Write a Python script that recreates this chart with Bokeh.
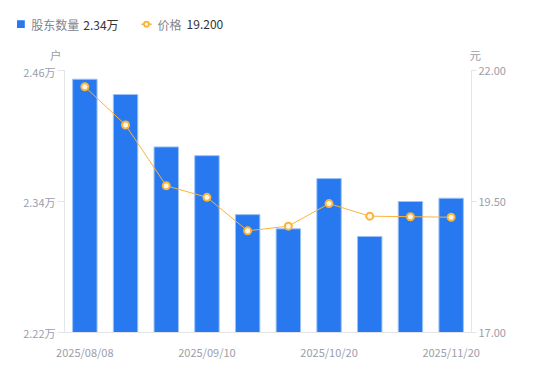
from bokeh.plotting import figure
from bokeh.layouts import column
from bokeh.models import (Range1d, LinearAxis, FixedTicker, PrintfTickFormatter,
                          ColumnDataSource)
from bokeh.core.properties import value
from bokeh.embed import file_html
from bokeh.resources import INLINE

dates = ["2025/08/08", "2025/08/20", "2025/08/31", "2025/09/10", "2025/09/19",
         "2025/09/30", "2025/10/20", "2025/10/31", "2025/11/10", "2025/11/20"]
holders = [2.452, 2.438, 2.390, 2.382, 2.328, 2.315, 2.361, 2.308, 2.340, 2.343]  # 万户
price = [21.69, 20.96, 19.80, 19.58, 18.94, 19.03, 19.46, 19.22, 19.21, 19.20]
left_ticks = [2.22, 2.34, 2.46]
right_ticks = [17.0, 19.5, 22.0]
shown_idx = [0, 3, 6, 9]
series_names = ["股东数量", "价格"]
units = ["户", "元"]

FONT = "Noto Sans CJK SC"
GRAY = "#9a9ea8"
LEGEND_GRAY = "#80858f"
AX = "#e3e5e8"
BLUE = "#2878f0"
ORANGE = "#f8b43c"

W = 534
TOP_H = 63
MAIN_H = 302

# ---------- top strip: legend + unit labels ----------
top = figure(width=W, height=TOP_H, output_backend="svg", toolbar_location=None,
             x_range=Range1d(0, W), y_range=Range1d(TOP_H, 0),
             x_axis_type=None, y_axis_type=None, title=None,
             min_border=0, min_border_left=0, min_border_right=0,
             min_border_top=0, min_border_bottom=0)
top.frame_align = False
top.outline_line_color = None
top.background_fill_color = "white"
top.border_fill_color = "white"

ly = 23.7
top.rect(x=[20.4], y=[ly], width=7.8, height=7.8, fill_color=BLUE, line_color=None)
top.line(x=[140.8, 151.2], y=[ly, ly], line_color=ORANGE, line_width=1.5)
top.scatter(x=[146.0], y=[ly], size=5, line_color=ORANGE, line_width=1.8, fill_color="#fff7e6")
top.text(x=[30.8, 157.0], y=[ly, ly], text=series_names,
         text_font=value(FONT), text_font_size="12px", text_color=LEGEND_GRAY,
         text_baseline="middle", text_align="left")
top.text(x=[82.8, 186.1], y=[ly, ly],
         text=["%.2f万" % holders[-1], "%.3f" % price[-1]],
         text_font=value(FONT), text_font_size="12px", text_color="#333333",
         text_baseline="middle", text_align="left")
top.text(x=[55.3, 474.8], y=[54.5, 54.5], text=units,
         text_font=value(FONT), text_font_size="11.5px", text_color=GRAY,
         text_baseline="middle", text_align="center")

# ---------- main chart ----------
src = ColumnDataSource(dict(x=list(range(len(dates))), h=holders, p=price))

p = figure(width=W, height=MAIN_H, output_backend="svg", toolbar_location=None,
           x_range=Range1d(-0.5, len(dates) - 0.5),
           y_range=Range1d(left_ticks[0], left_ticks[-1]), title=None,
           min_border_left=64, min_border_right=63, min_border_top=7, min_border_bottom=33)
p.frame_align = False
p.outline_line_color = None
p.xgrid.visible = False
p.ygrid.visible = False
p.background_fill_color = "white"
p.border_fill_color = "white"

p.extra_y_ranges = {"price": Range1d(right_ticks[0], right_ticks[-1])}

p.vbar(x="x", top="h", bottom=left_ticks[0], width=0.6, source=src,
       fill_color=BLUE, line_color="#9cc2f7", line_width=1)
p.line(x="x", y="p", source=src, y_range_name="price", line_color=ORANGE, line_width=1)
p.scatter(x="x", y="p", source=src, y_range_name="price", size=7,
          line_color=ORANGE, line_width=2, fill_color="#fff7e6")

xa = p.xaxis[0]
xa.ticker = FixedTicker(ticks=shown_idx)
xa.major_label_overrides = {i: dates[i] for i in shown_idx}
xa.axis_line_color = AX
xa.major_tick_line_color = None
xa.minor_tick_line_color = None
xa.major_label_text_color = GRAY
xa.major_label_text_font = FONT
xa.major_label_text_font_size = "11px"
xa.major_label_standoff = 5

ya = p.yaxis[0]
ya.ticker = FixedTicker(ticks=left_ticks)
ya.formatter = PrintfTickFormatter(format="%.2f万")
ya.axis_line_color = AX
ya.major_tick_line_color = AX
ya.major_tick_out = 7
ya.major_tick_in = 0
ya.minor_tick_line_color = None
ya.major_label_text_color = GRAY
ya.major_label_text_font = FONT
ya.major_label_text_font_size = "11px"
ya.major_label_standoff = 2

ra = LinearAxis(y_range_name="price", ticker=FixedTicker(ticks=right_ticks),
                formatter=PrintfTickFormatter(format="%.2f"))
ra.axis_line_color = AX
ra.major_tick_line_color = AX
ra.major_tick_out = 5
ra.major_tick_in = 0
ra.minor_tick_line_color = None
ra.major_label_text_color = GRAY
ra.major_label_text_font = FONT
ra.major_label_text_font_size = "11px"
ra.major_label_standoff = 2
p.add_layout(ra, "right")

layout = column(top, p, spacing=0)
open("out.html", "w").write(file_html(layout, INLINE))
